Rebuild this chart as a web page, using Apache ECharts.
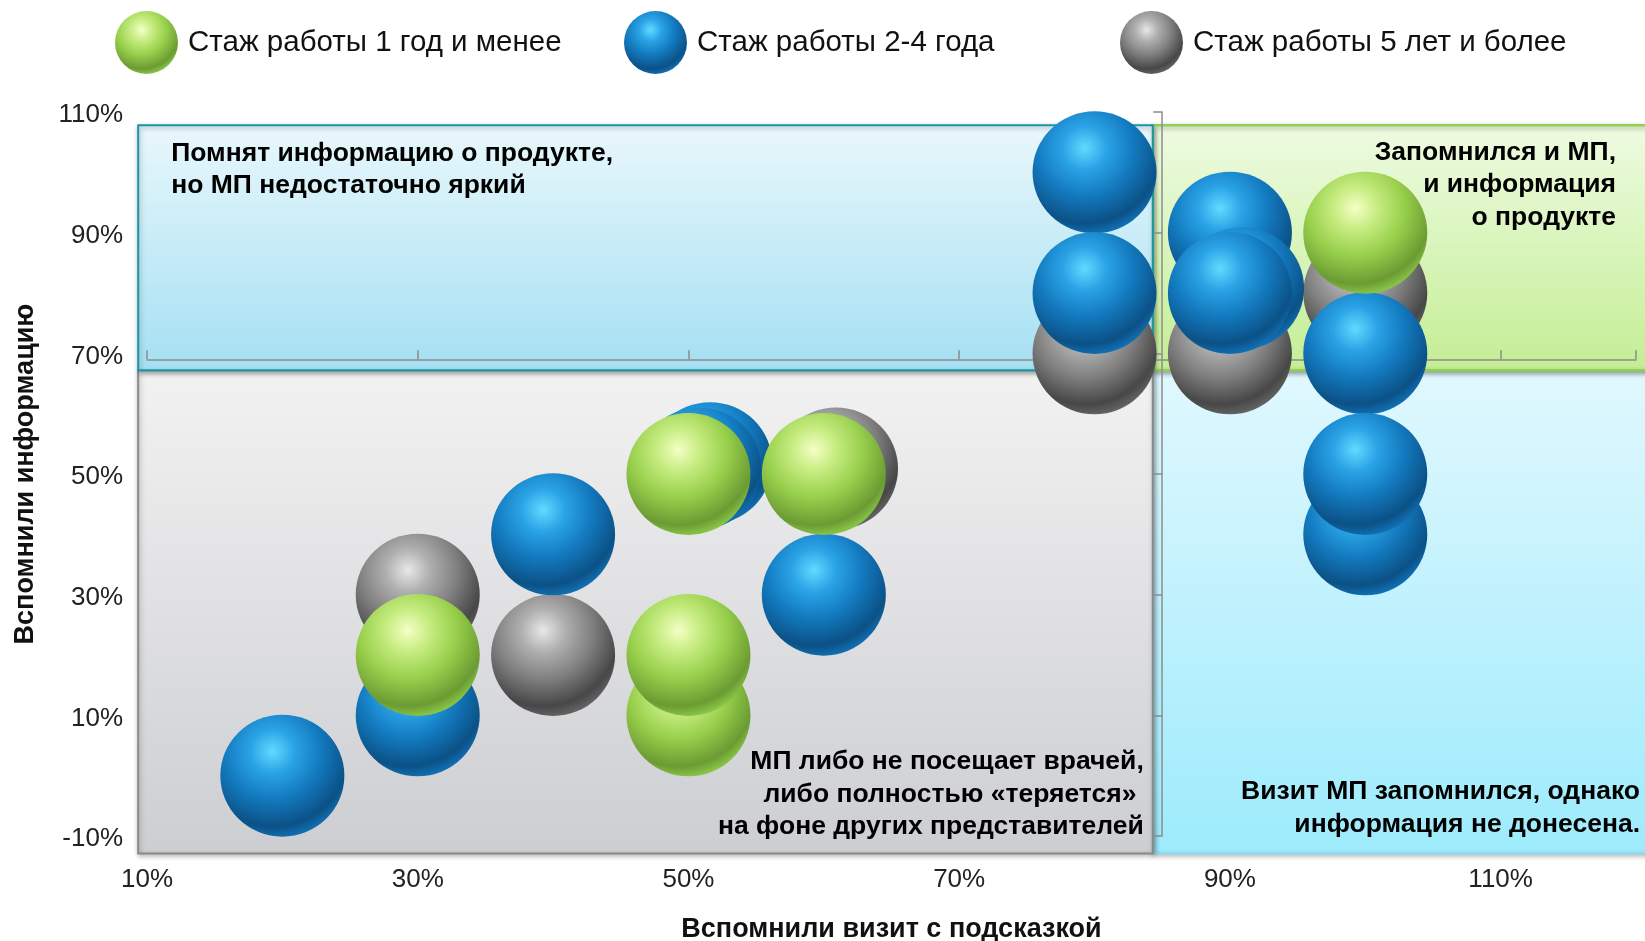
<html>
    <head>
        <meta charset="utf-8">
        <script src="https://cdn.jsdelivr.net/npm/echarts@6.0.0/dist/echarts.min.js"></script>
    </head>
    <body>
        <style>
            html, body, #main {
                width: 100%;
                height: 100%;
                margin: 0;
                background: #fff;
            }
        </style>
        <div id="main"></div>
        <script>

            // series names (legend order: green, blue, grey)
            var nameGreen = 'Стаж работы 1 год и менее';
            var nameBlue = 'Стаж работы 2-4 года';
            var nameGrey = 'Стаж работы 5 лет и более';

            // [вспомнили визит с подсказкой %, вспомнили информацию %]
            var greyPoints = [[30, 30], [40, 20], [60.9, 50.9], [80, 70], [90, 70], [100, 80]];
            var bluePoints = [
                [20, 0], [30, 10], [40, 40], [51.6, 51.8], [50.8, 50.9], [60, 30],
                [80, 100], [80, 80], [90, 90], [90.9, 80.8], [90, 80],
                [100, 70], [100, 40], [100, 50]
            ];
            var greenPoints = [[30, 20], [50, 50], [50, 10], [50, 20], [60, 50], [100, 90]];

            // axis ranges / where the two axes cross
            var xMin = 10, xMax = 120, xStep = 20;
            var yMin = -10, yMax = 110, yStep = 20;
            var crossX = 85, crossY = 69;

            var quadrantTexts = [
                'Помнят информацию о продукте,\nно МП недостаточно яркий',
                'Запомнился и МП,\nи информация\nо продукте',
                'МП либо не посещает врачей,\nлибо полностью «теряется» \nна фоне других представителей',
                'Визит МП запомнился, однако\nинформация не донесена.'
            ];

            var font = '"Liberation Sans", Arial, sans-serif';
            var chart = echarts.init(document.getElementById('main'));
            var W = chart.getWidth(), H = chart.getHeight();

            var grid = {left: 147, right: 9, top: 112, bottom: 105};
            var plotW = W - grid.left - grid.right;
            var plotH = H - grid.top - grid.bottom;
            // second pair of axes drawn through the crossing point
            var crossLineOffsetY = -(yMax - crossY) / (yMax - yMin) * plotH;
            var crossLineOffsetX = -(xMax - crossX) / (xMax - xMin) * plotW;

            function ball(c0, c1, c2, c3, c4) {
                return {
                    type: 'radial', x: 0.42, y: 0.3, r: 0.72,
                    colorStops: [
                        {offset: 0, color: c0},
                        {offset: 0.25, color: c1},
                        {offset: 0.55, color: c2},
                        {offset: 0.86, color: c3},
                        {offset: 1, color: c4}
                    ]
                };
            }
            var blueBall = ball('#62daff', '#2aa3e6', '#1379be', '#0b5186', '#1273b8');
            var greenBall = ball('#f4ffc6', '#c6ec80', '#97cf4b', '#6b9b33', '#8dca4a');
            var greyBall = ball('#e8e8e8', '#afafaf', '#808080', '#474747', '#666666');

            var axisLineStyle = {color: '#8c8c8c', width: 1.5};

            function legendItem(name, left) {
                return {
                    data: [name],
                    left: left,
                    top: 11,
                    padding: 0,
                    icon: 'circle',
                    itemWidth: 63,
                    itemHeight: 65,
                    selectedMode: false,
                    textStyle: {fontSize: 29.5, color: '#111', fontFamily: font, padding: [9, 0, 0, 5]}
                };
            }

            function scatter(name, data, color) {
                return {
                    name: name,
                    type: 'scatter',
                    z: 10,
                    symbol: 'circle',
                    symbolSize: [124, 122],
                    itemStyle: {color: color, opacity: 1},
                    emphasis: {disabled: true},
                    data: data
                };
            }

            chart.setOption({
                animation: false,
                legend: [
                    legendItem(nameGreen, 115),
                    legendItem(nameBlue, 624),
                    legendItem(nameGrey, 1120)
                ],
                grid: {
                    left: grid.left,
                    right: grid.right,
                    top: grid.top,
                    bottom: grid.bottom,
                    outerBoundsMode: 'none'
                },
                xAxis: [
                    {
                        type: 'value',
                        min: xMin, max: xMax, interval: xStep,
                        position: 'bottom',
                        z: 5,
                        axisLine: {show: false, onZero: false},
                        axisTick: {show: false},
                        splitLine: {show: false},
                        axisLabel: {
                            formatter: '{value}%', fontSize: 26, color: '#222',
                            fontFamily: font, margin: 31, showMaxLabel: false
                        },
                        name: 'Вспомнили визит с подсказкой',
                        nameLocation: 'middle',
                        nameGap: 80,
                        nameTextStyle: {fontSize: 27, fontWeight: 'bold', color: '#111', fontFamily: font}
                    },
                    {
                        type: 'value',
                        min: xMin, max: xMax, interval: xStep,
                        position: 'top',
                        offset: crossLineOffsetY,
                        z: 5,
                        axisLine: {show: true, onZero: false, lineStyle: axisLineStyle},
                        axisTick: {show: true, length: 9, lineStyle: axisLineStyle},
                        axisLabel: {show: false},
                        splitLine: {show: false}
                    }
                ],
                yAxis: [
                    {
                        type: 'value',
                        min: yMin, max: yMax, interval: yStep,
                        position: 'left',
                        z: 5,
                        axisLine: {show: false, onZero: false},
                        axisTick: {show: false},
                        splitLine: {show: false},
                        axisLabel: {
                            formatter: '{value}%', fontSize: 26, color: '#222',
                            fontFamily: font, margin: 24,
                            verticalAlign: 'top', lineHeight: 6
                        },
                        name: 'Вспомнили информацию',
                        nameLocation: 'middle',
                        nameGap: 108,
                        nameTextStyle: {fontSize: 27, fontWeight: 'bold', color: '#111', fontFamily: font}
                    },
                    {
                        type: 'value',
                        min: yMin, max: yMax, interval: yStep,
                        position: 'right',
                        offset: crossLineOffsetX,
                        z: 5,
                        axisLine: {show: true, onZero: false, lineStyle: axisLineStyle},
                        axisTick: {show: true, inside: true, length: 9, lineStyle: axisLineStyle},
                        axisLabel: {show: false},
                        splitLine: {show: false}
                    }
                ],
                series: [
                    scatter(nameGrey, greyPoints, greyBall),
                    scatter(nameBlue, bluePoints, blueBall),
                    scatter(nameGreen, greenPoints, greenBall)
                ]
            });

            // quadrant panels, placed in data space
            var quadLeft = 9.35, quadSplitX = 84.3, quadRight = 122;
            var quadTop = 107.8, quadSplitY = 67.2, quadBottom = -12.9;

            function px(x, y) {
                return chart.convertToPixel({xAxisIndex: 0, yAxisIndex: 0}, [x, y]);
            }
            var p1 = px(quadLeft, quadTop);
            var pm = px(quadSplitX, quadSplitY);
            var p2 = px(quadRight, quadBottom);

            function vgrad(top, bottom) {
                return {
                    type: 'linear', x: 0, y: 0, x2: 0, y2: 1,
                    colorStops: [{offset: 0, color: top}, {offset: 1, color: bottom}]
                };
            }
            function panel(x0, y0, x1, y1, fill, stroke, lw) {
                return {
                    type: 'rect',
                    z: 1,
                    silent: true,
                    shape: {x: x0, y: y0, width: x1 - x0, height: y1 - y0},
                    style: {
                        fill: fill, stroke: stroke, lineWidth: lw,
                        shadowBlur: 5, shadowOffsetX: 1, shadowOffsetY: 2,
                        shadowColor: 'rgba(0,0,0,0.3)'
                    }
                };
            }
            function label(text, x, y, align) {
                return {
                    type: 'text',
                    z: 6,
                    silent: true,
                    style: {
                        text: text, x: x, y: y,
                        align: align, verticalAlign: 'top',
                        font: 'bold 26.5px ' + font,
                        lineHeight: 32.5,
                        fill: '#000'
                    }
                };
            }

            chart.setOption({
                graphic: [
                    panel(pm[0], pm[1], p2[0], p2[1], vgrad('#e1f8fe', '#9debfc'), '#8fd8f0', 2),
                    panel(pm[0], p1[1], p2[0], pm[1], vgrad('#eefbe2', '#c4ee94'), '#92d050', 2.5),
                    panel(p1[0], pm[1], pm[0], p2[1], vgrad('#f2f2f2', '#cdced2'), '#8a8a8a', 2),
                    panel(p1[0], p1[1], pm[0], pm[1], vgrad('#e9f7fc', '#a4e0f2'), '#1996a8', 2),
                    label(quadrantTexts[0], p1[0] + 33, p1[1] + 12, 'left'),
                    label(quadrantTexts[1], W - 29, p1[1] + 11, 'right'),
                    label(quadrantTexts[2], pm[0] - 9, p2[1] - 108, 'right'),
                    label(quadrantTexts[3], W - 5, p2[1] - 78, 'right')
                ]
            });

        </script>
    </body>
</html>
